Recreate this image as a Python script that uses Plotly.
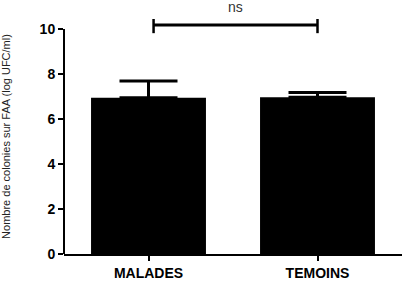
import plotly.graph_objects as go

categories = ["MALADES", "TEMOINS"]
means = [6.95, 6.97]
sem_upper = [0.74, 0.21]
y_ticks = [0, 2, 4, 6, 8, 10]
sig_label = "ns"
sig_level = 10.18
sig_span = [0.03, 1.0]
y_title = "Nombre de colonies sur FAA (log UFC/ml)"

fig = go.Figure()
fig.add_trace(go.Bar(
    x=[0, 1], y=means, width=0.68,
    marker=dict(color="black", line=dict(width=0)),
    error_y=dict(type="data", symmetric=False, array=sem_upper,
                 arrayminus=[0, 0], color="black", thickness=3, width=29),
    showlegend=False,
))

# significance bracket
fig.add_shape(type="line", xref="x", yref="y", x0=sig_span[0], x1=sig_span[1],
              y0=sig_level, y1=sig_level, line=dict(color="black", width=3))
for xv in sig_span:
    fig.add_shape(type="line", xref="x", yref="y", x0=xv, x1=xv,
                  y0=sig_level - 0.36, y1=sig_level + 0.36,
                  line=dict(color="black", width=2.5))
fig.add_annotation(x=sum(sig_span) / 2, y=sig_level, xref="x", yref="y",
                   text=sig_label, showarrow=False, yshift=18,
                   font=dict(size=14, color="#333"))

# y axis line only up to top tick
fig.add_shape(type="line", xref="paper", yref="y", x0=0, x1=0,
              y0=y_ticks[0], y1=y_ticks[-1], line=dict(color="black", width=2))

fig.update_layout(
    width=406, height=287,
    margin=dict(l=64, r=4, t=19, b=33),
    plot_bgcolor="white", paper_bgcolor="white",
    font=dict(family="Liberation Sans, Arial", color="black"),
    xaxis=dict(range=[-0.5, 1.5], tickvals=[0, 1],
               ticktext=[f"<b>{c}</b>" for c in categories],
               showline=True, linecolor="black", linewidth=2,
               ticks="outside", ticklen=5, tickwidth=2, tickcolor="black",
               tickfont=dict(size=14),
               showgrid=False, zeroline=False),
    yaxis=dict(range=[0, 10.45], tickvals=y_ticks,
               ticktext=[f"<b>{t}</b>" for t in y_ticks],
               showline=False, ticks="outside", ticklen=5, tickwidth=2,
               tickcolor="black", tickfont=dict(size=14),
               showgrid=False, zeroline=False,
               title=dict(text=y_title, font=dict(size=11, color="#222"), standoff=26)),
)

fig.write_html("out.html")
